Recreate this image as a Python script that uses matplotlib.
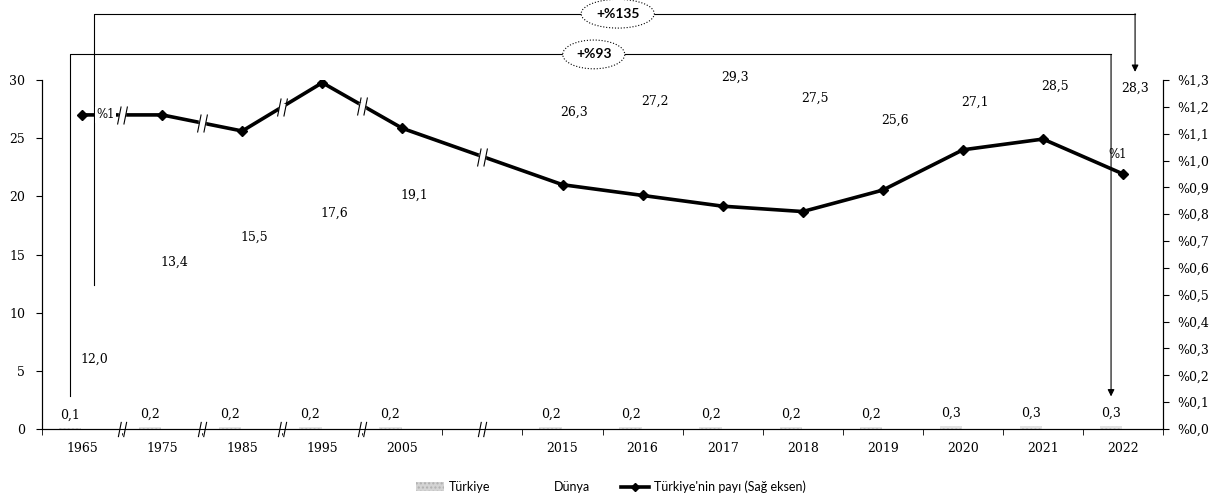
import matplotlib
matplotlib.use("Agg")
import matplotlib.pyplot as plt
import numpy as np
from matplotlib.path import Path
from matplotlib.patches import Patch
from matplotlib.lines import Line2D

# categories (empty slot is the gap between 2005 and 2015)
years = ["1965", "1975", "1985", "1995", "2005", "", "2015", "2016", "2017",
         "2018", "2019", "2020", "2021", "2022"]
turkiye = [0.1, 0.2, 0.2, 0.2, 0.2, np.nan, 0.2, 0.2, 0.2, 0.2, 0.2, 0.3, 0.3, 0.3]
dunya = [12.0, 13.4, 15.5, 17.6, 19.1, np.nan, 26.3, 27.2, 29.3, 27.5, 25.6, 27.1, 28.5, 28.3]
pay = [1.17, 1.17, 1.11, 1.29, 1.12, np.nan, 0.91, 0.87, 0.83, 0.81, 0.89, 1.04, 1.08, 0.95]
breaks = [(0, 1), (1, 2), (2, 3), (3, 4), (4, 6)]   # where the axis / line is broken

num_font = "DejaVu Serif"
txt_font = "Lato"

fig = plt.figure(figsize=(12.22, 5.01), dpi=100)
ax = fig.add_axes([0.0344, 0.1437, 0.9174, 0.6966])
ax2 = ax.twinx()

x = np.arange(len(years))
off = 0.15
w = 0.28
ax.bar(x - off, turkiye, w, color="#e4e4e4", hatch="....", edgecolor="#c8c8c8", lw=0)
ax.bar(x + off, dunya, w, color="white", edgecolor="none")

# value labels
for i in range(len(years)):
    if np.isnan(turkiye[i]):
        continue
    ax.annotate(f"{turkiye[i]:.1f}".replace(".", ","), (x[i] - off, turkiye[i]),
                xytext=(0, 9), textcoords="offset points", ha="center", va="center",
                fontsize=9, family=num_font)
    dy = -50 if i == 0 else 8
    ax.annotate(f"{dunya[i]:.1f}".replace(".", ","), (x[i] + off, dunya[i]),
                xytext=(0, dy), textcoords="offset points", ha="center", va="center",
                fontsize=9, family=num_font)

ax.set_xlim(-0.5, len(years) - 0.5)
ax.set_ylim(0, 30)
ax.set_yticks(range(0, 31, 5))
ax.set_xticks(x)
ax.set_xticklabels(years, family=num_font, fontsize=9)
ax.set_xticks(np.arange(-0.5, len(years), 1.0), minor=True)
ax.tick_params(axis="x", which="major", length=0, pad=9)
ax.tick_params(axis="x", which="minor", length=4, direction="out")
ax.tick_params(axis="y", length=4, pad=8, labelsize=9)
for t in ax.get_yticklabels():
    t.set_family(num_font)
ax.spines["top"].set_visible(False)
ax2.spines["top"].set_visible(False)

# share line on the right axis
mask = ~np.isnan(pay)
ax2.plot(x[mask], np.array(pay)[mask], color="black", lw=2.6, marker="D",
         ms=5, zorder=5)
ax2.set_ylim(0, 1.3)
ticks = np.round(np.arange(0, 1.31, 0.1), 1)
ax2.set_yticks(ticks)
ax2.set_yticklabels(["%" + f"{t:.1f}".replace(".", ",") for t in ticks],
                    family=num_font, fontsize=9)
ax2.tick_params(axis="y", length=4, pad=6)

ax2.text(x[0] + 0.18, pay[0], "%1", fontsize=8.5, family=num_font, va="center",
         ha="left", zorder=7, bbox=dict(fc="white", ec="none", pad=1))
ax2.annotate("%1", (x[-1], pay[-1]), xytext=(-4, 14), textcoords="offset points",
             fontsize=8.5, family=num_font, ha="center", va="center")

# break marks
brk = Path([(-0.55, -1), (-0.15, 1), (0.15, -1), (0.55, 1)],
           [Path.MOVETO, Path.LINETO, Path.MOVETO, Path.LINETO])
for i, j in breaks:
    bx = (x[i] + x[j]) / 2
    by = (pay[i] + pay[j]) / 2
    ax2.plot(bx, by, marker="s", ms=5, color="white", mec="white", zorder=6)
    ax2.plot(bx, by, marker=brk, ms=13, color="black", mew=0.8, zorder=6)
    ax.plot(bx, 0, marker="s", ms=5, color="white", mec="white", zorder=6, clip_on=False)
    ax.plot(bx, 0, marker=brk, ms=11, color="black", mew=0.8, zorder=6, clip_on=False)

# bracket arrows
def bracket(x0, y0, x1, y1, ytop, label, lx):
    ax.plot([x0, x0, x1], [y0, ytop, ytop], color="black", lw=0.8, clip_on=False, zorder=3)
    ax.annotate("", xy=(x1, y1), xytext=(x1, ytop),
                arrowprops=dict(arrowstyle="-|>", color="black", lw=0.8,
                                mutation_scale=10, shrinkA=0, shrinkB=0),
                annotation_clip=False)
    ax.text(lx, ytop, label, ha="center", va="center", fontsize=10, weight="bold",
            family=txt_font, zorder=8,
            bbox=dict(boxstyle="ellipse,pad=0.3", fc="white", ec="black", lw=0.8, ls=":"))

bracket(x[0] + off, dunya[0] + 0.4, x[-1] + off, dunya[-1] + 2.4, 35.7, "+%135", 6.69)
bracket(x[0] - off, turkiye[0] + 2.7, x[-1] - off, turkiye[-1] + 2.5, 32.2, "+%93", 6.39)

handles = [Patch(fc="#d4d4d4", hatch="....", ec="#b0b0b0", lw=0),
           Patch(fc="white", ec="none"),
           Line2D([], [], color="black", lw=2.6, marker="D", ms=4)]
fig.legend(handles, ["Türkiye", "Dünya", "Türkiye'nin payı (Sağ eksen)"],
           loc="center", bbox_to_anchor=(0.5, 0.028), ncol=3, frameon=False,
           prop=dict(family=txt_font, size=9), handlelength=2.2, columnspacing=2.5,
           handletextpad=0.4)

fig.savefig("out.png", dpi=100)
